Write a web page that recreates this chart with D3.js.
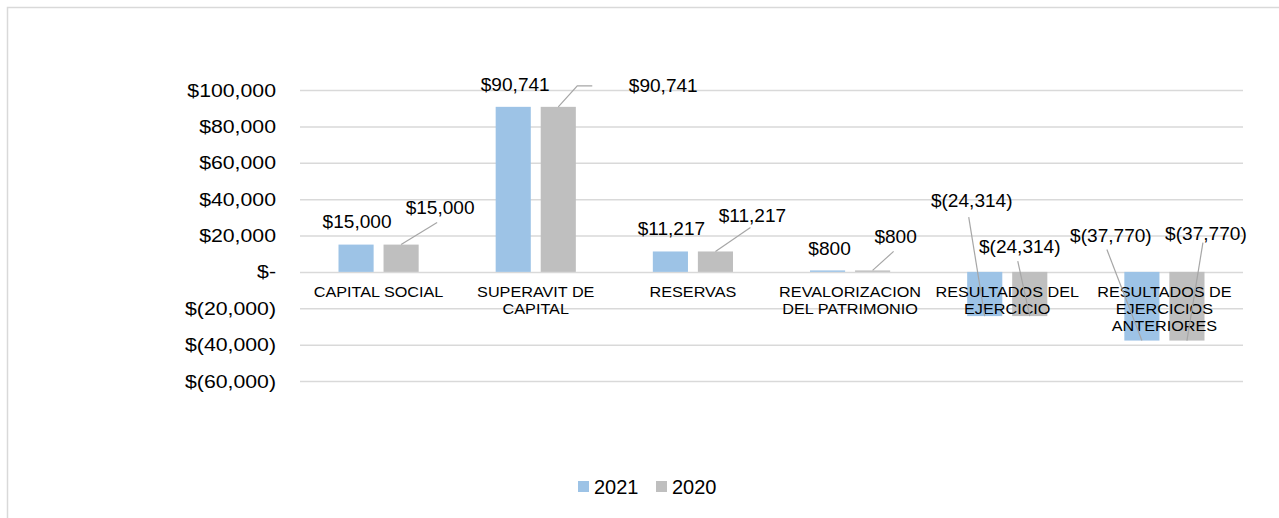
<!DOCTYPE html>
<html>
<head>
<meta charset="utf-8">
<script src="https://cdn.jsdelivr.net/npm/d3@7"></script>
<style>
  body { margin: 0; background: #fff; }
  svg text { font-family: "Liberation Sans", Arial, sans-serif; fill: #000; }
</style>
</head>
<body>
<div id="chart"></div>
<script>
// datos del grafico (patrimonio)
const categorias = ['CAPITAL SOCIAL', 'SUPERAVIT DE CAPITAL', 'RESERVAS',
  'REVALORIZACION DEL PATRIMONIO', 'RESULTADOS DEL EJERCICIO', 'RESULTADOS DE EJERCICIOS ANTERIORES'];
const series = ['2021', '2020'];
const valores2021 = [15000, 90741, 11217, 800, -24314, -37770];
const valores2020 = [15000, 90741, 11217, 800, -24314, -37770];
const ticksY = [100000, 80000, 60000, 40000, 20000, 0, -20000, -40000, -60000];
const colores = ['#9DC3E6', '#BFBFBF'];

const W = 1279, H = 518;
const plot = { left: 300, right: 1243, top: 90, bottom: 381 };

const svg = d3.select('#chart').append('svg')
  .attr('width', W).attr('height', H);

// el original esta algo estirado en horizontal: escala X del texto alrededor de su ancla
function estirar(sel, sx) {
  sel.each(function () {
    const t = d3.select(this);
    const x = +t.attr('x') || 0, yy = +t.attr('y') || 0;
    t.attr('transform', `translate(${x},${yy}) scale(${sx},1) translate(${-x},${-yy})`);
  });
}

// marco del area del grafico
svg.append('rect')
  .attr('x', 7.5).attr('y', 7.5)
  .attr('width', W + 20).attr('height', H + 20)
  .attr('fill', 'none').attr('stroke', '#d9d9d9').attr('stroke-width', 1.5);

const x0 = d3.scaleBand().domain(categorias).range([plot.left, plot.right]);
const x1 = d3.scaleBand().domain(series)
  .range([38.5, x0.bandwidth() - 38.5]).paddingInner(0.22);
const y = d3.scaleLinear().domain([-60000, 100000]).range([plot.bottom, plot.top]);

const fmt = v => {
  if (v === 0) return '$-';
  const s = d3.format(',')(Math.abs(v));
  return v < 0 ? '$(' + s + ')' : '$' + s;
};

// grid + eje Y
const axisY = d3.axisLeft(y).tickValues(ticksY).tickFormat(fmt)
  .tickSize(-(plot.right - plot.left)).tickPadding(0);
const gy = svg.append('g').attr('transform', `translate(${plot.left},0)`).call(axisY);
gy.select('.domain').remove();
gy.selectAll('line').attr('stroke', '#d9d9d9').attr('stroke-width', 1.5);
gy.selectAll('text').attr('font-size', 19).attr('fill', '#000').attr('x', -24)
  .style('font-family', '"Liberation Sans", Arial, sans-serif');
estirar(gy.selectAll('text'), 1.12);

// barras
const filas = categorias.map((c, i) => ({ cat: c, vals: [valores2021[i], valores2020[i]] }));
const grupos = svg.selectAll('.grupo').data(filas).enter().append('g')
  .attr('transform', d => `translate(${x0(d.cat)},0)`);
grupos.selectAll('rect')
  .data(d => d.vals.map((v, j) => ({ serie: series[j], v, j })))
  .enter().append('rect')
  .attr('x', d => x1(d.serie))
  .attr('width', x1.bandwidth())
  .attr('y', d => y(Math.max(0, d.v)))
  .attr('height', d => Math.abs(y(d.v) - y(0)))
  .attr('fill', d => colores[d.j]);

// etiquetas de categoria (texto envuelto)
const escCat = 1.08, tamCat = 15;
function envolver(texto, maxW, size) {
  const palabras = texto.split(' ');
  const ctx = document.createElement('canvas').getContext('2d');
  ctx.font = `${size}px "Liberation Sans", Arial`;
  const lineas = [];
  let actual = '';
  palabras.forEach(p => {
    const prueba = actual ? actual + ' ' + p : p;
    if (ctx.measureText(prueba).width * escCat > maxW && actual) { lineas.push(actual); actual = p; }
    else actual = prueba;
  });
  lineas.push(actual);
  return lineas;
}
categorias.forEach(c => {
  const lineas = envolver(c, 150, tamCat);
  const cx = x0(c) + x0.bandwidth() / 2;
  const t = svg.append('text')
    .attr('text-anchor', 'middle').attr('font-size', tamCat)
    .attr('x', cx).attr('y', y(0) + 25);
  lineas.forEach((l, k) => t.append('tspan')
    .attr('x', cx).attr('dy', k === 0 ? 0 : 17).text(l));
  estirar(t, escCat);
});

// etiquetas de datos: desplazamiento respecto al extremo de la barra + linea guia
const layout = [
  [{ dx: 1, dy: -23 }, { dx: 39, dy: -37, line: [[36, -22]] }],
  [{ dx: 2, dy: -22 }, { dx: 105, dy: -21, line: [[19, -21], [34, -21]] }],
  [{ dx: 1, dy: -23 }, { dx: 37, dy: -36, line: [[35, -24]] }],
  [{ dx: 2, dy: -22 }, { dx: 23, dy: -34, line: [[21, -19]] }],
  [{ dx: -13, dy: -115, line: [[-16, -99]] }, { dx: -10, dy: -69, line: [[-12, -55]] }],
  [{ dx: -31, dy: -105, line: [[-35, -91]] }, { dx: 19, dy: -107, line: [[16, -98]] }]
];
filas.forEach((f, i) => {
  f.vals.forEach((v, j) => {
    const cx = x0(f.cat) + x1(series[j]) + x1.bandwidth() / 2;
    const cy = y(v);
    const L = layout[i][j];
    if (L.line) {
      const pts = [[cx, cy]].concat(L.line.map(p => [cx + p[0], cy + p[1]]));
      svg.append('path').attr('d', d3.line()(pts))
        .attr('fill', 'none').attr('stroke', '#a6a6a6').attr('stroke-width', 1.2);
    }
    const t = svg.append('text')
      .attr('x', cx + L.dx).attr('y', cy + L.dy)
      .attr('text-anchor', 'middle').attr('dominant-baseline', 'central')
      .attr('font-size', 17.5).text(fmt(v));
    estirar(t, 1.09);
  });
});

// leyenda
const leyenda = svg.append('g').attr('transform', 'translate(578,487)');
const items = [{ x: 0 }, { x: 78 }];
series.forEach((s, j) => {
  const g = leyenda.append('g').attr('transform', `translate(${items[j].x},0)`);
  g.append('rect').attr('x', 0).attr('y', -6).attr('width', 11).attr('height', 11).attr('fill', colores[j]);
  g.append('text').attr('x', 16).attr('y', 0).attr('dominant-baseline', 'central')
    .attr('font-size', 20).text(s);
});
</script>
</body>
</html>
